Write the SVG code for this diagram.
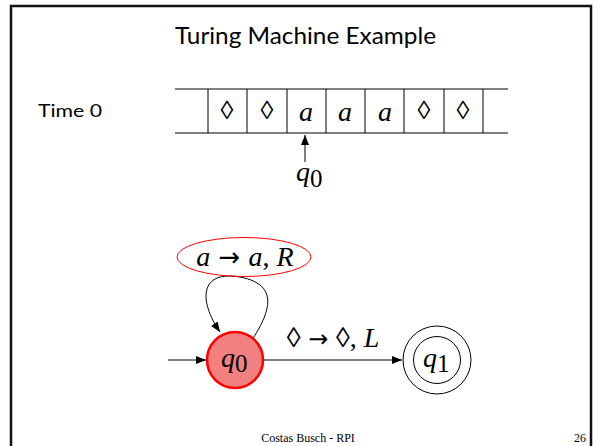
<svg xmlns="http://www.w3.org/2000/svg" width="600" height="446" viewBox="0 0 600 446">
<style>
.frame{fill:none;stroke:#111;stroke-width:2.5}
.line{fill:none;stroke:#000;stroke-width:1}
.title{font-family:Lato,"Liberation Sans",sans-serif;font-size:23px;fill:#000}
.lab{font-family:Lato,"Liberation Sans",sans-serif;font-size:18px;fill:#000}
.sym{font-family:"Liberation Serif",serif;font-size:28px;fill:#000}
.it{font-style:italic}
.arr{font-family:"DejaVu Sans",sans-serif;font-style:normal}
.foot{font-family:"Liberation Serif",serif;font-size:12px;fill:#000}
</style>
<defs>
<marker id="ah" viewBox="0 0 10 10" refX="10" refY="5" markerWidth="10" markerHeight="10" markerUnits="userSpaceOnUse" orient="auto">
<path d="M0,1 L10,5 L0,9 z" fill="#000"/>
</marker>
</defs>
<rect width="600" height="446" fill="#fff"/>
<path class="frame" d="M11,450 V6 H591 V450"/>
<text class="title" x="175" y="44" textLength="261" lengthAdjust="spacingAndGlyphs">Turing Machine Example</text>
<text class="lab" x="38" y="117" textLength="64" lengthAdjust="spacingAndGlyphs">Time 0</text>
<g id="tape">
<path class="line" d="M175,89 H508 M175,133 H508 M208,89 V133 M247,89 V133 M287,89 V133 M326,89 V133 M365,89 V133 M404,89 V133 M444,89 V133 M483,89 V133"/>
<g class="sym" text-anchor="middle">
<text x="227" y="119" font-size="26">◊</text>
<text x="267" y="119" font-size="26">◊</text>
<text x="306" y="121" class="it">a</text>
<text x="345" y="121" class="it">a</text>
<text x="385" y="121" class="it">a</text>
<text x="424" y="119" font-size="26">◊</text>
<text x="463" y="119" font-size="26">◊</text>
</g>
</g>
<g id="head">
<text class="sym" x="296" y="181"><tspan class="it">q</tspan><tspan dy="6" font-size="25">0</tspan></text>
</g>
<g id="connectors">
<line class="line" x1="305" y1="162" x2="305" y2="135" marker-end="url(#ah)"/>
<line class="line" x1="168" y1="360" x2="206" y2="360" marker-end="url(#ah)"/>
<path class="line" d="M252,340 C268,315 282,285 240,277 C200,270 198,300 220,332" marker-end="url(#ah)"/>
<line class="line" x1="264" y1="360" x2="402" y2="360" marker-end="url(#ah)"/>
</g>
<g id="loop-label">
<ellipse cx="244" cy="257" rx="67" ry="19.5" fill="none" stroke="#ff0000" stroke-width="1"/>
<text class="sym" x="245" y="266" text-anchor="middle" font-size="28"><tspan class="it">a</tspan><tspan class="arr" font-size="26"> → </tspan><tspan class="it">a</tspan>, <tspan class="it">R</tspan></text>
</g>
<g id="edge-label">
<text class="sym" x="333" y="347" text-anchor="middle" font-size="26">◊<tspan class="arr" font-size="24"> → </tspan>◊, <tspan class="it" font-size="28">L</tspan></text>
</g>
<g id="q0">
<circle cx="235" cy="360" r="28" fill="#f28080" stroke="#ff0000" stroke-width="2.5"/>
<text class="sym" x="221" y="367"><tspan class="it">q</tspan><tspan dy="5" font-size="25">0</tspan></text>
</g>
<g id="q1">
<circle cx="437" cy="360" r="34" fill="none" stroke="#000" stroke-width="1"/>
<circle cx="437" cy="360" r="23.5" fill="none" stroke="#000" stroke-width="1"/>
<text class="sym" x="423" y="367"><tspan class="it">q</tspan><tspan dy="5" font-size="25">1</tspan></text>
</g>
<text class="foot" x="308" y="442" text-anchor="middle">Costas Busch - RPI</text>
<text class="foot" x="580" y="442" text-anchor="middle">26</text>
</svg>
